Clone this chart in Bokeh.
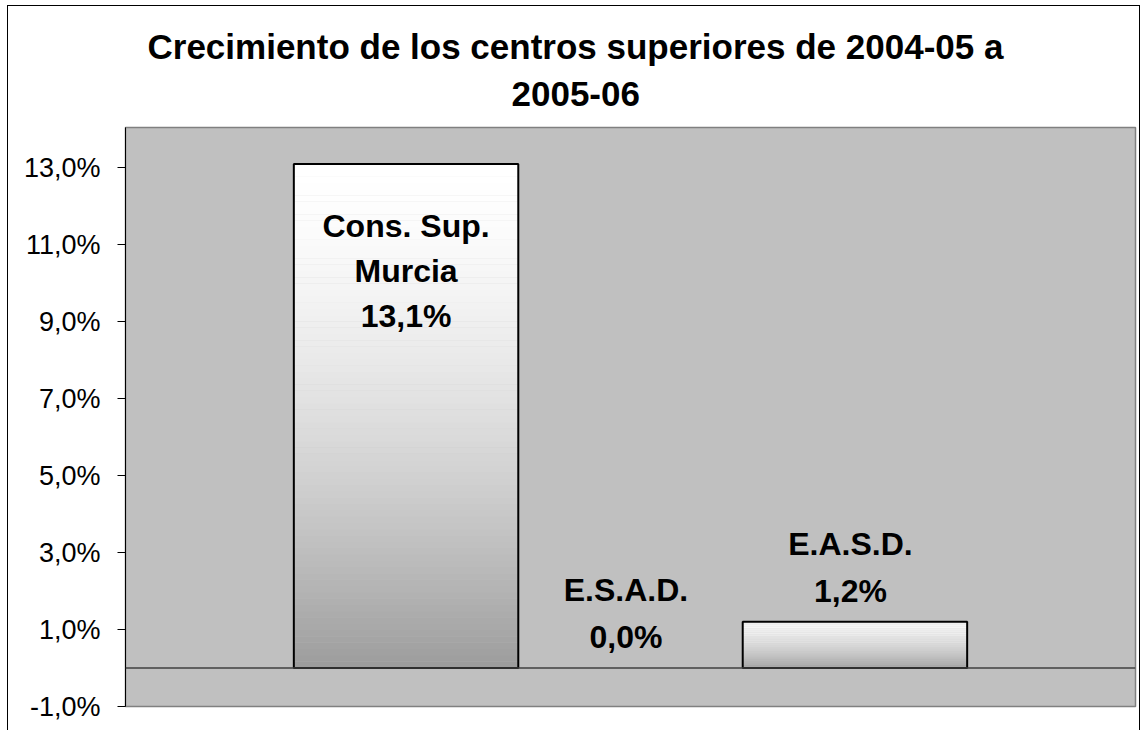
from bokeh.plotting import figure
from bokeh.models import ColumnDataSource, FixedTicker, Span, Title, Range1d
from bokeh.core.properties import value
from bokeh.embed import file_html
from bokeh.resources import INLINE

# ---- data ----
title_lines = ["Crecimiento de los centros superiores de 2004-05 a", "2005-06"]
categories = ["Cons. Sup.\nMurcia", "E.S.A.D.", "E.A.S.D."]
values = [13.1, 0.0, 1.2]
positions = [1, 2, 3]
y_ticks = [-1, 1, 3, 5, 7, 9, 11, 13]
y_tick_labels = ["-1,0%", "1,0%", "3,0%", "5,0%", "7,0%", "9,0%", "11,0%", "13,0%"]

FONT = "Liberation Sans"
BAR_W = 1.0

p = figure(width=1133, height=725,
           x_range=Range1d(-0.25, 4.25), y_range=Range1d(-1, 14.05),
           output_backend="svg", toolbar_location=None,
           x_axis_location=None,
           min_border_left=117, min_border_right=6,
           min_border_top=121, min_border_bottom=25)
p.styles = {"border-left": "1px solid black", "border-top": "1px solid black",
            "border-right": "1px solid black",
            "margin-left": "7px", "margin-top": "5px"}
p.background_fill_color = "#C0C0C0"
p.border_fill_color = "white"
p.outline_line_color = "#808080"
p.outline_line_width = 1.5
p.xgrid.visible = False
p.ygrid.visible = False

# gradient bars (white at top -> grey at bottom), built from the values
N = 80
gl, gr, gb, gt, gc = [], [], [], [], []
for x, v in zip(positions, values):
    if v == 0:
        continue
    for k in range(N):
        s = 1 - (k + 0.5) / N  # distance from top, 0..1
        g = int(round(255 - 99 * s ** 1.6))
        gl.append(x - BAR_W / 2)
        gr.append(x + BAR_W / 2)
        gb.append(v * k / N)
        gt.append(v * (k + 1) / N + (v / N) * 0.05)
        gc.append("#%02x%02x%02x" % (g, g, g))
p.quad(left=gl, right=gr, bottom=gb, top=gt, fill_color=gc, line_color=None)

nz = [(x, v) for x, v in zip(positions, values) if v != 0]
outline = ColumnDataSource(dict(
    left=[x - BAR_W / 2 for x, v in nz],
    right=[x + BAR_W / 2 for x, v in nz],
    top=[v for x, v in nz],
))
p.quad(left="left", right="right", bottom=0, top="top", source=outline,
       fill_color=None, line_color="black", line_width=2)

p.add_layout(Span(location=0, dimension="width", line_color="#404040", line_width=1.5))

# data labels
lab_text = [c + "\n" + ("%.1f" % v).replace(".", ",") + "%" for c, v in zip(categories, values)]
inside = [v > 10 for v in values]
src_in = ColumnDataSource(dict(x=[x for x, i in zip(positions, inside) if i],
                               y=[v for v, i in zip(values, inside) if i],
                               t=[t for t, i in zip(lab_text, inside) if i]))
src_out = ColumnDataSource(dict(x=[x - 0.02 for x, i in zip(positions, inside) if not i],
                                y=[v for v, i in zip(values, inside) if not i],
                                t=[t for t, i in zip(lab_text, inside) if not i]))
p.text(x="x", y="y", text="t", source=src_in, text_font=value(FONT),
       text_font_style="bold", text_font_size="32px", text_align="center",
       text_baseline="top", y_offset=44, text_color="black", text_line_height=1.25)
p.text(x="x", y="y", text="t", source=src_out, text_font=value(FONT),
       text_font_style="bold", text_font_size="32px", text_align="center",
       text_baseline="bottom", y_offset=-13, text_color="black", text_line_height=1.3)

# title: two lines, centred on the whole chart (frame starts 118px in)
t2 = Title(text=title_lines[1], align="left", offset=386, text_font=FONT,
           text_font_style="bold", text_font_size="35px", text_color="black",
           standoff=44)
t1 = Title(text=title_lines[0], align="left", offset=22, text_font=FONT,
           text_font_style="bold", text_font_size="35px", text_color="black",
           standoff=-16)
p.add_layout(t2, "above")
p.add_layout(t1, "above")

yax = p.yaxis[0]
yax.ticker = FixedTicker(ticks=y_ticks)
yax.major_label_overrides = {t: l for t, l in zip(y_ticks, y_tick_labels)}
yax.major_label_text_font = FONT
yax.major_label_text_font_size = "27px"
yax.major_label_text_color = "black"
yax.major_label_standoff = 17
yax.major_tick_out = 8
yax.major_tick_in = 0
yax.minor_tick_out = 0
yax.minor_tick_in = 0
yax.axis_line_color = "black"
yax.major_tick_line_color = "black"

open("out.html", "w").write(file_html(p, INLINE))
